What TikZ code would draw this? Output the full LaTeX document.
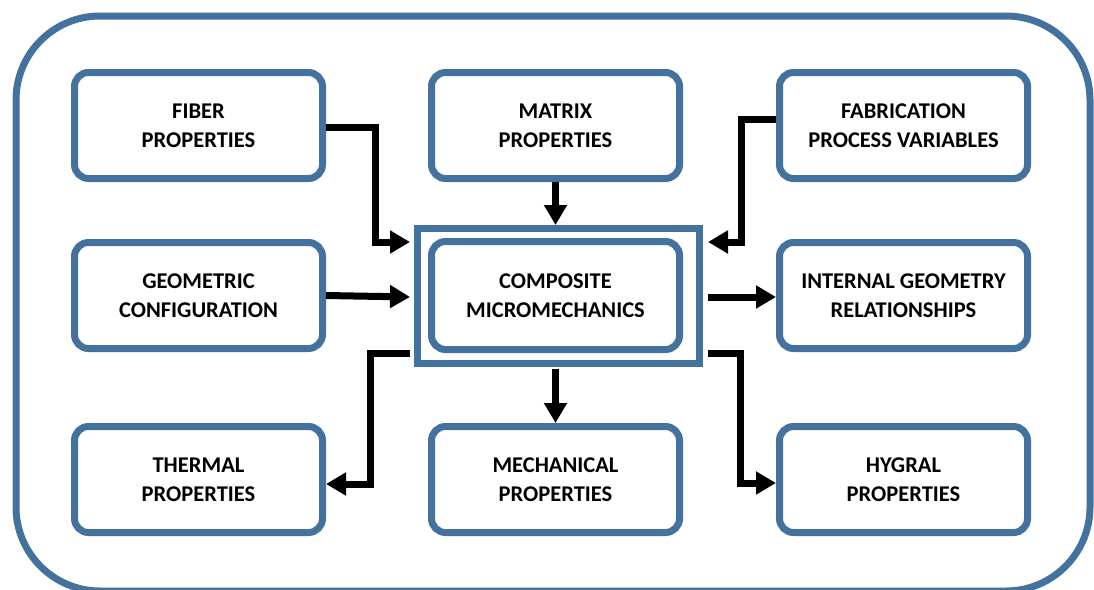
\documentclass[tikz,border=0pt]{standalone}
\usepackage{fontspec}
\setmainfont{Carlito}
\usetikzlibrary{arrows.meta}
\definecolor{frameblue}{RGB}{68,114,158}
\begin{document}
\begin{tikzpicture}[x=1pt,y=-1pt,
  box/.style={draw=frameblue, line width=7pt, rounded corners=14pt, fill=white,
    minimum width=248pt, minimum height=106pt, align=center, inner sep=0pt,
    font=\fontsize{22.5}{29}\selectfont\bfseries},
  arr/.style={draw=black, line width=7pt,
    -{Triangle[width=22pt,length=20pt]}}]
  \useasboundingbox (0,0) rectangle (1094,589);
  \clip (0,0) rectangle (1094,589);

  % outer frame
  \draw[frameblue, line width=7pt, rounded corners=84pt] (16,16) rectangle (1090,591);

  % top row
  \node[box] (fiber) at (198.5,125.5) {FIBER\\PROPERTIES};
  \node[box] (matrix) at (555.5,125.5) {MATRIX\\PROPERTIES};
  \node[box] (fab) at (903.5,125.5) {FABRICATION\\PROCESS VARIABLES};

  % middle row
  \node[box] (geo) at (198.5,295.5) {GEOMETRIC\\CONFIGURATION};
  \node[draw=frameblue, line width=7pt, minimum width=282pt, minimum height=135pt,
    inner sep=0pt] (comp) at (558.5,296) {};
  \node[box, minimum height=108pt] (compin) at (555.5,295.5) {COMPOSITE\\MICROMECHANICS};
  \node[box] (intg) at (903.5,295.5) {INTERNAL GEOMETRY\\RELATIONSHIPS};

  % bottom row
  \node[box] (therm) at (198.5,479.5) {THERMAL\\PROPERTIES};
  \node[box] (mech) at (555.5,479.5) {MECHANICAL\\PROPERTIES};
  \node[box] (hyg) at (903.5,479.5) {HYGRAL\\PROPERTIES};

  % connector bends and free ends around the central block
  \coordinate (cinNW) at (410,242);
  \coordinate (jFiber) at (375,242);
  \coordinate (cinNE) at (708,242);
  \coordinate (jFab) at (741,242);
  \coordinate (cinW) at (410,297);
  \coordinate (coutE) at (708,297);
  \coordinate (coutSW) at (410,353);
  \coordinate (jTherm) at (370,484);
  \coordinate (coutS) at (555.5,369);
  \coordinate (coutSE) at (708,353);
  \coordinate (jHyg) at (740,483);

  % inputs
  \draw[arr] ([yshift=-1.5pt]fiber.east) -| (jFiber) -- (cinNW);
  \draw[arr] (matrix.south) -- (matrix.south |- comp.north);
  \draw[arr] ([yshift=6.5pt]fab.west) -| (jFab) -- (cinNE);
  \draw[arr] (geo.east) -- (cinW);

  % outputs
  \draw[arr] (coutE) -- (coutE -| intg.west);
  \draw[arr] (coutSW) -| (jTherm) -- (jTherm -| therm.east);
  \draw[arr] (coutS) -- (mech.north);
  \draw[arr] (coutSE) -| (jHyg) -- (jHyg -| hyg.west);
\end{tikzpicture}
\end{document}
